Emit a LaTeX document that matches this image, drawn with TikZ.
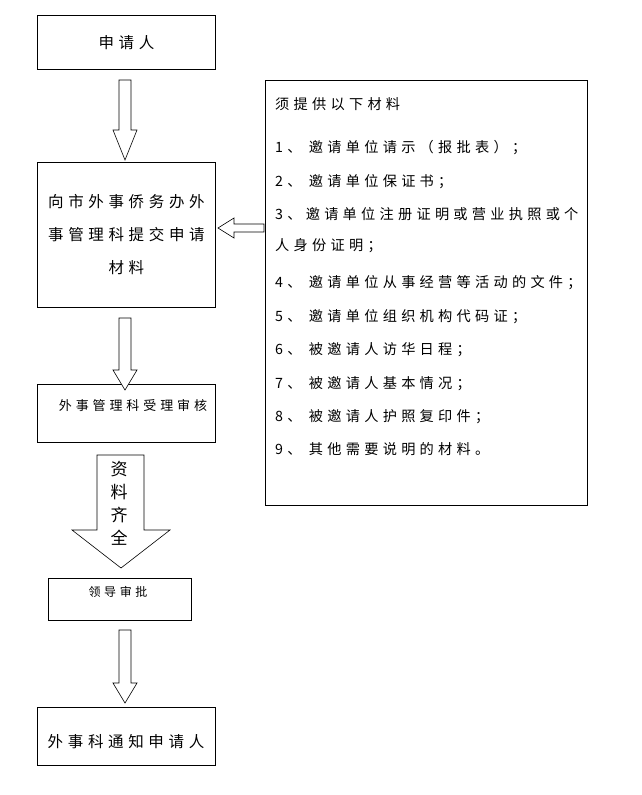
\documentclass[tikz,border=0pt]{standalone}
\usepackage{fontspec}
\newfontfamily\cjk{Noto Sans CJK SC}
\newfontfamily\cjkwide[LetterSpace=30]{Noto Sans CJK SC}
\usetikzlibrary{positioning}
\tikzset{
  box/.style={draw,line width=0.8pt,anchor=north west,inner sep=0pt},
  downarrow/.style={draw,line width=0.6pt,fill=white},
  item/.style={anchor=west,font=\cjkwide\fontsize{14.2}{14.2}\selectfont,inner sep=0pt}
}
\begin{document}
\begin{tikzpicture}[x=1pt,y=-1pt]
                \useasboundingbox (0,0) rectangle (641,795);
                \tikzstyle{every node}=[font=\cjkwide\fontsize{15.5}{15.5}\selectfont]
                % boxes
                \node [box,minimum width=178pt,minimum height=54pt] (applicant) at (37,15) {};
                \node at (applicant.center) {申请人};
                \node [box,minimum width=178pt,minimum height=145pt] (submit) at (37,162) {};
                \node [align=center,font=\cjkwide\fontsize{15.5}{33}\selectfont] at (submit.center) {向市外事侨务办外\\事管理科提交申请\\材料};
                \node [box,minimum width=178pt,minimum height=58pt] (review) at (37,384) {};
                \node [font=\cjkwide\fontsize{13}{13}\selectfont] at (133,406) {外事管理科受理审核};
                \node [box,minimum width=143pt,minimum height=42pt] (approve) at (48,578) {};
                \node [font=\cjkwide\fontsize{12}{12}\selectfont] at (118,592) {领导审批};
                \node [box,minimum width=178pt,minimum height=58pt] (notify) at (37,707) {};
                \node at (126,742) {外事科通知申请人};
                \node [box,minimum width=322pt,minimum height=425pt] (list) at (265,80) {};
                % list of materials
                \node [item] at (275,104) {须提供以下材料};
                \foreach \y/\t in {148/1、 邀请单位请示（报批表）；,182/2、 邀请单位保证书；,214/3、邀请单位注册证明或营业执照或个,246/人身份证明；,283/4、 邀请单位从事经营等活动的文件；,317/5、 邀请单位组织机构代码证；,350/6、 被邀请人访华日程；,384/7、 被邀请人基本情况；,417/8、 被邀请人护照复印件；,449/9、 其他需要说明的材料。}
                  \node [item] at (275,\y) {\t};
                % hollow arrows
                \foreach \a/\b/\h in {80/160/130,318/390/370,630/703/683}
                  \draw [downarrow] (119,\a) -- (131,\a) -- (131,\h) -- (137,\h) -- (125,\b) -- (113,\h) -- (119,\h) -- cycle;
                \draw [downarrow] (97,455) -- (144,455) -- (144,530) -- (170,530) -- (121,568) -- (72,530) -- (97,530) -- cycle;
                \node [align=center,font=\cjk\fontsize{17}{23}\selectfont] at (119,503) {资\\料\\齐\\全};
                \draw [downarrow] (264,224) -- (234,224) -- (234,218) -- (218,228) -- (234,238) -- (234,232) -- (264,232) -- cycle;
\end{tikzpicture}
\end{document}
